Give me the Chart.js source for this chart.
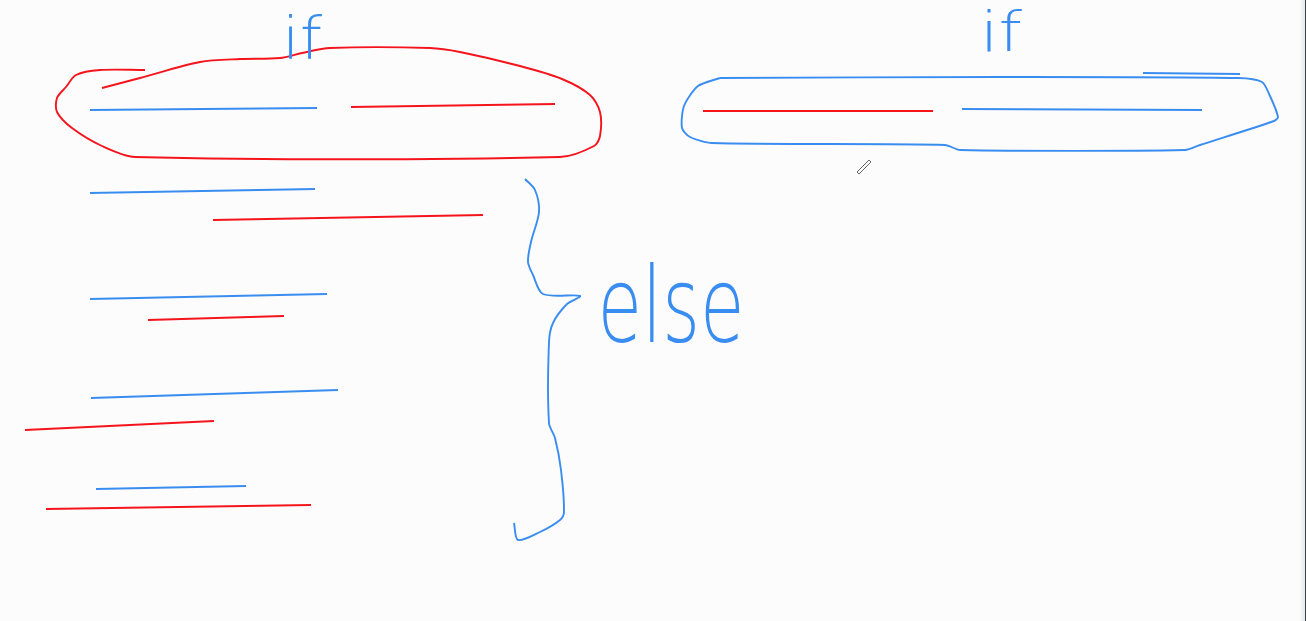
<!DOCTYPE html>
<html>
<head>
<meta charset="utf-8">
<script src="https://cdn.jsdelivr.net/npm/chart.js@4.4.1/dist/chart.umd.min.js"></script>
<style>
  html, body { margin: 0; padding: 0; background: #fcfcfc; overflow: hidden; }
  #wrap { position: absolute; left: 0; top: 0; width: 1306px; height: 621px; }
  #edge { position: absolute; top: 0; right: 0; width: 7px; height: 621px;
          background: linear-gradient(to right, rgba(0,0,0,0), rgba(0,0,0,0.08) 80%, #34475a 86%); }
</style>
</head>
<body>
<div id="wrap"><canvas id="board"></canvas></div>
<div id="edge"></div>
<script>
// ---- strokes (board units: x right, y down) ----
const redLoopLeft = [
  [102,88],[140,78],[200,62],[240,59],[280,58],[302,53],[330,48],[430,48],[460,52],
  [520,66],[562,79],[590,95],[600,112],[600,136],[594,146],[560,157],[135,157],
  [102,146],[72,128],[57,112],[57,98],[66,87],[76,75],[100,70],[145,70]
];
const blueIfLeft  = [[90,110],[317,108]];
const redIfLeft   = [[351,107],[555,104]];

const blueLoopRight = [
  [720,78],[1000,77],[1238,78],[1262,82],[1270,96],[1278,117],[1274,121],[1200,145],
  [1185,150],[960,150],[945,145],[712,143],[690,137],[682,128],[684,106],[698,86],[720,78]
];
const blueTopRight = [[1143,73],[1240,74]];
const redIfRight   = [[703,111],[933,111]];
const blueIfRight  = [[962,109],[1202,110]];

const elseBlue = [
  [[90,193],[315,189]],
  [[90,299],[327,294]],
  [[91,398],[338,390]],
  [[96,489],[246,486]]
];
const elseRed = [
  [[213,220],[483,215]],
  [[148,320],[284,316]],
  [[25,430],[214,421]],
  [[46,509],[311,505]]
];

const brace = [
  [525,179],[535,190],[539,212],[531,242],[528,262],[533,275],[543,294],[580,296],
  [567,304],[553,323],[549,342],[549,423],[555,438],[561,470],[564,512],[560,520],
  [540,532],[518,540],[514,523]
];

// pencil cursor left on the board
const pencil = [[857,172],[869,160],[871,162],[859,174],[857,172]];

// ---- handwritten words ----
const words      = ['if', 'if', 'else'];
const wordAnchor = [[302,59], [1001,51], [671,342]];
const wordWidth  = [40, 42, 147];
const wordStretch = [1.05, 1.0, 1.2];

const BLUE = '#3a8df0';
const RED  = '#f5141c';

const pts = arr => arr.map(p => ({ x: p[0], y: p[1] }));
function stroke(arr, color, tension, width) {
  return { data: pts(arr), borderColor: color, borderWidth: width || 1.9, showLine: true,
           pointRadius: 0, tension: tension || 0, fill: false };
}

const datasets = [
  stroke(redLoopLeft, RED, 0.3),
  stroke(blueIfLeft, BLUE),
  stroke(redIfLeft, RED),
  stroke(blueLoopRight, BLUE, 0.25),
  stroke(blueTopRight, BLUE),
  stroke(redIfRight, RED),
  stroke(blueIfRight, BLUE),
  ...elseBlue.map(l => stroke(l, BLUE)),
  ...elseRed.map(l => stroke(l, RED)),
  stroke(brace, BLUE, 0.3),
  stroke(pencil, '#666', 0, 1)
];

const wordsPlugin = {
  id: 'words',
  afterDatasetsDraw(chart) {
    const { ctx, scales: { x, y } } = chart;
    ctx.save();
    ctx.fillStyle = BLUE;
    ctx.textAlign = 'center';
    ctx.textBaseline = 'alphabetic';
    words.forEach((w, i) => {
      const size = w === 'else' ? 88 : 56;
      ctx.font = '200 ' + size + 'px "DejaVu Sans"';
      const m = ctx.measureText(w).width;
      const px = x.getPixelForValue(wordAnchor[i][0]);
      const py = y.getPixelForValue(wordAnchor[i][1]);
      const sx = (x.getPixelForValue(wordWidth[i]) - x.getPixelForValue(0)) / m;
      ctx.save();
      ctx.translate(px, py);
      ctx.scale(sx, wordStretch[i]);
      ctx.fillText(w, 0, 0);
      ctx.restore();
    });
    ctx.restore();
  }
};

new Chart(document.getElementById('board'), {
  type: 'scatter',
  data: { datasets },
  options: {
    responsive: true,
    maintainAspectRatio: false,
    animation: false,
    layout: { padding: 0 },
    plugins: { legend: { display: false }, tooltip: { enabled: false } },
    scales: {
      x: { type: 'linear', min: 0, max: 1306, display: false },
      y: { type: 'linear', min: 0, max: 621, reverse: true, display: false }
    }
  },
  plugins: [wordsPlugin]
});
</script>
</body>
</html>
